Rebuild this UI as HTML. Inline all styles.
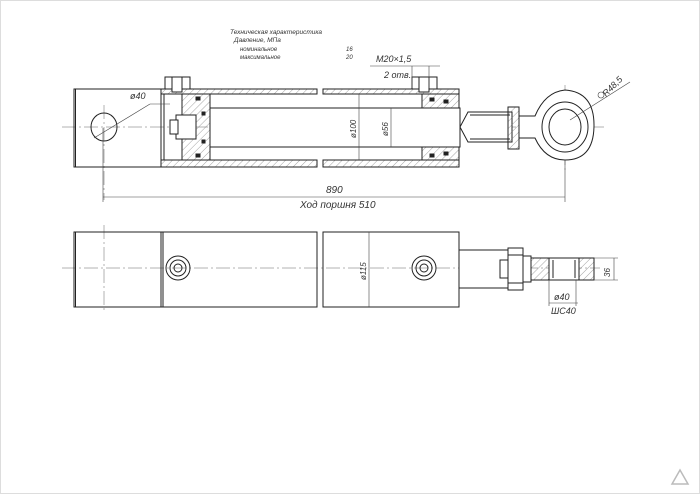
<!DOCTYPE html>
<html><head><meta charset="utf-8"><style>
html,body{margin:0;padding:0;background:#fff}
svg{display:block}
text{font-family:"Liberation Sans","DejaVu Sans",sans-serif;font-style:italic;fill:#333}
</style></head><body>
<svg width="700" height="494" viewBox="0 0 700 494" xmlns="http://www.w3.org/2000/svg">
<defs>
<pattern id="h" width="5" height="5" patternUnits="userSpaceOnUse" patternTransform="rotate(45)">
<line x1="0" y1="0" x2="0" y2="5" stroke="#666" stroke-width="0.6"/></pattern>
</defs>
<rect x="0.5" y="0.5" width="699" height="493" fill="#fff" stroke="#ddd"/>
<g stroke="#222" fill="none" stroke-width="1">
<!-- spec text -->
</g>
<text x="230" y="34" font-size="6.5">Техническая характеристика</text>
<text x="234" y="42" font-size="6.5">Давление, МПа</text>
<text x="240" y="51" font-size="6">номинальное</text>
<text x="240" y="59" font-size="6">максимальное</text>
<text x="346" y="51" font-size="6">16</text>
<text x="346" y="59" font-size="6">20</text>
<text x="376" y="62" font-size="9">M20×1,5</text>
<text x="384" y="78" font-size="9">2 отв.</text>

<!-- centre lines -->
<g stroke="#666" stroke-width="0.5" stroke-dasharray="14,3,2,3">
<line x1="62" y1="127" x2="605" y2="127"/>
<line x1="62" y1="268" x2="600" y2="268"/>
<line x1="104" y1="105" x2="104" y2="200"/>
<line x1="104" y1="225" x2="104" y2="312"/>
<line x1="565" y1="85" x2="565" y2="170"/>
</g>

<!-- TOP VIEW -->
<g stroke="#222" fill="none" stroke-width="1">
<rect x="74" y="89" width="87" height="78"/>
<line x1="75.5" y1="89" x2="75.5" y2="167"/>
<!-- tube walls -->
<rect x="161" y="89" width="156" height="5" fill="url(#h)"/>
<rect x="161" y="160" width="156" height="7" fill="url(#h)"/>
<rect x="323" y="89" width="136" height="5" fill="url(#h)"/>
<rect x="323" y="160" width="136" height="7" fill="url(#h)"/>
<line x1="164" y1="94" x2="164" y2="160"/>
<!-- ports -->
<rect x="165" y="77" width="25" height="12" fill="#fff"/>
<rect x="172" y="77" width="10" height="15" fill="#fff"/>
<rect x="412" y="77" width="25" height="12" fill="#fff"/>
<rect x="419" y="77" width="10" height="15" fill="#fff"/>
<!-- piston -->
<rect x="182" y="94" width="28" height="66" fill="url(#h)"/>
<rect x="176" y="115" width="20" height="24" fill="#fff"/>
<rect x="170" y="120" width="8" height="14" fill="#fff"/>
<rect x="196" y="97" width="4" height="3" fill="#222"/>
<rect x="196" y="154" width="4" height="3" fill="#222"/>
<rect x="202" y="112" width="3" height="3" fill="#222"/>
<rect x="202" y="140" width="3" height="3" fill="#222"/>
<!-- rod -->
<rect x="210" y="108" width="250" height="39" fill="#fff"/>
<!-- gland -->
<rect x="422" y="94" width="37" height="14" fill="url(#h)"/>
<rect x="422" y="147" width="37" height="13" fill="url(#h)"/>
<rect x="430" y="98" width="4" height="3" fill="#222"/>
<rect x="444" y="100" width="4" height="3" fill="#222"/>
<rect x="430" y="154" width="4" height="3" fill="#222"/>
<rect x="444" y="152" width="4" height="3" fill="#222"/>
<!-- rod end thread -->
<path d="M468 112 L512 112 L512 142 L468 142 L460 127 Z" fill="#fff"/>
<line x1="470" y1="115" x2="510" y2="115"/>
<line x1="470" y1="139" x2="510" y2="139"/>
<rect x="508" y="107" width="11" height="42" fill="url(#h)"/>
<!-- eye -->
<path d="M519 116 L535 116 Q545 92 565 90 Q594 92 594 125 Q594 160 565 160 Q545 160 535 138 L519 138 Z" fill="#fff"/>
<ellipse cx="565" cy="127" rx="23" ry="25"/>
<ellipse cx="565" cy="127" rx="16" ry="18"/>
<!-- pin hole -->
<ellipse cx="104" cy="127" rx="13" ry="14"/>
</g>
<!-- top dims -->
<g stroke="#444" stroke-width="0.6" fill="none">
<line x1="94" y1="138" x2="150" y2="104"/><line x1="150" y1="104" x2="170" y2="104"/>
<line x1="359" y1="94" x2="359" y2="160"/>
<line x1="391" y1="108" x2="391" y2="147"/>
<line x1="103" y1="197" x2="565" y2="197"/>
<line x1="103" y1="128" x2="103" y2="202"/>
<line x1="565" y1="160" x2="565" y2="202"/>
<line x1="370" y1="66" x2="440" y2="66"/>
<line x1="412" y1="66" x2="412" y2="88"/><line x1="429" y1="66" x2="429" y2="88"/>
<line x1="570" y1="120" x2="630" y2="82"/>
</g>
<circle cx="601" cy="95" r="3" fill="none" stroke="#444" stroke-width="0.6"/>
<text x="130" y="99" font-size="9">ø40</text>
<text transform="translate(356,138) rotate(-90)" font-size="8">ø100</text>
<text transform="translate(388,136) rotate(-90)" font-size="8">ø56</text>
<text transform="translate(606,97) rotate(-45)" font-size="9">R48,5</text>
<text x="326" y="193" font-size="10">890</text>
<text x="300" y="208" font-size="10">Ход поршня 510</text>

<!-- BOTTOM VIEW -->
<g stroke="#222" fill="none" stroke-width="1">
<rect x="74" y="232" width="243" height="75"/>
<rect x="323" y="232" width="136" height="75"/>
<line x1="161" y1="232" x2="161" y2="307"/><line x1="163" y1="232" x2="163" y2="307"/>
<line x1="75.5" y1="232" x2="75.5" y2="307"/>
<circle cx="178" cy="268" r="12"/><circle cx="178" cy="268" r="8"/><circle cx="178" cy="268" r="4"/>
<circle cx="424" cy="268" r="12"/><circle cx="424" cy="268" r="8"/><circle cx="424" cy="268" r="4"/>
<rect x="459" y="250" width="49" height="38" fill="#fff"/>
<rect x="500" y="260" width="8" height="18" fill="#fff"/>
<rect x="508" y="248" width="15" height="42" fill="#fff"/>
<rect x="523" y="256" width="8" height="26" fill="#fff"/>
<line x1="508" y1="255" x2="523" y2="255"/><line x1="508" y1="283" x2="523" y2="283"/>
<rect x="531" y="258" width="63" height="22" fill="url(#h)"/>
<rect x="549" y="258" width="30" height="22" fill="#fff"/>
<line x1="553" y1="260" x2="553" y2="278"/><line x1="575" y1="260" x2="575" y2="278"/>
</g>
<g stroke="#444" stroke-width="0.6" fill="none">
<line x1="369" y1="232" x2="369" y2="307"/>
<line x1="614" y1="258" x2="614" y2="280"/>
<line x1="594" y1="258" x2="618" y2="258"/><line x1="594" y1="280" x2="618" y2="280"/>
<line x1="549" y1="303" x2="578" y2="303"/>
<line x1="549" y1="280" x2="549" y2="306"/><line x1="576" y1="280" x2="576" y2="306"/>
</g>
<text transform="translate(366,280) rotate(-90)" font-size="8">ø115</text>
<text transform="translate(610,277) rotate(-90)" font-size="8">36</text>
<text x="554" y="300" font-size="9">ø40</text>
<text x="551" y="314" font-size="9">ШС40</text>
<path d="M672 484 L680 470 L688 484 Z" fill="none" stroke="#bbb" stroke-width="1.5"/>
</svg>
</body></html>
